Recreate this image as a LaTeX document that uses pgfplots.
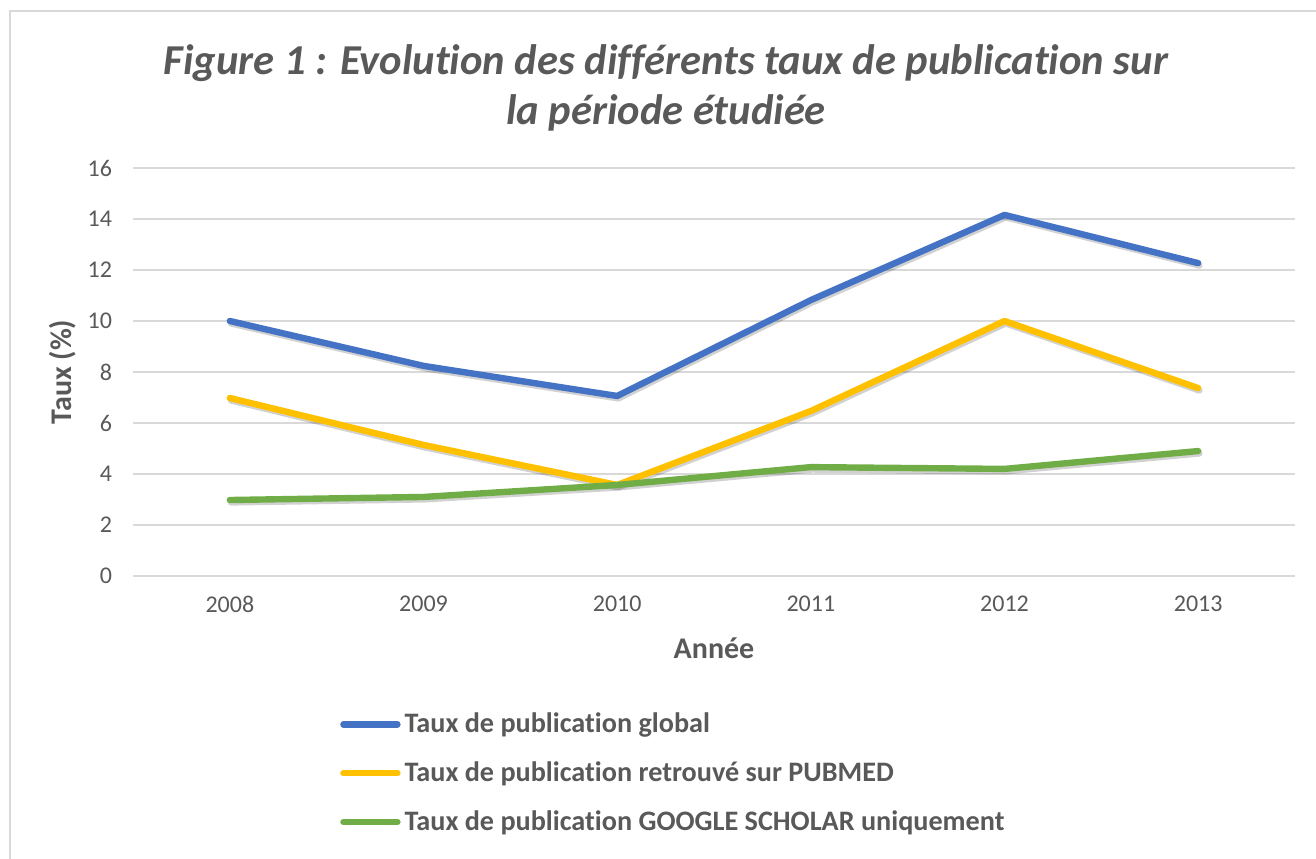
\documentclass[border=0pt]{standalone}
\usepackage{fontspec}
\setmainfont{Carlito}[Ligatures=NoCommon]
\usepackage{pgfplots}
\pgfplotsset{compat=1.18}
\definecolor{cblue}{HTML}{4472C4}
\definecolor{cyellow}{HTML}{FFC000}
\definecolor{cgreen}{HTML}{70AD47}
\definecolor{txt}{HTML}{595959}
\definecolor{cgrid}{HTML}{D9D9D9}
\begin{document}
\begin{tikzpicture}
\useasboundingbox (0pt,0pt) rectangle (658pt,429pt);
\draw[cgrid, line width=0.8pt] (5pt,-2pt) -- (5pt,423.5pt) -- (660pt,423.5pt);
\node[font=\fontsize{21.3}{25}\selectfont\bfseries\itshape, text=txt, align=center] at (333pt,385pt)
  {Figure 1 : Evolution des différents taux de publication sur\\la période étudiée};
\begin{axis}[
  at={(66.5pt,141pt)}, anchor=south west,
  scale only axis, width=581pt, height=204pt,
  xmin=-0.5, xmax=5.5, ymin=0, ymax=16,
  xtick={0,1,2,3,4,5},
  xticklabels={2008,2009,2010,2011,2012,2013},
  ytick={0,2,...,16},
  xmajorgrids=false, ymajorgrids=true,
  grid style={cgrid, line width=0.8pt},
  axis line style={draw=none},
  tick style={draw=none},
  /pgf/number format/assume math mode=true,
  tick label style={font=\fontsize{12}{14}\selectfont, text=txt},
  yticklabel style={xshift=-7pt},
  xticklabel style={yshift=-6.6pt},
  xlabel={Année}, ylabel={Taux (\%)},
  label style={font=\fontsize{15}{18}\selectfont\bfseries, text=txt},
  xlabel style={at={(rel axis cs:0.5,-0.1765)}, anchor=center},
  ylabel style={at={(rel axis cs:-0.0602,0.5)}, anchor=center},
  legend style={at={(rel axis cs:0.178,-0.325)}, anchor=north west, draw=none,
    font=\fontsize{14.1}{17}\selectfont\bfseries, text=txt,
    row sep=9pt, inner sep=0pt,
    /tikz/every even column/.append style={column sep=0pt}},
  legend cell align=left,
  legend image code/.code={\draw[#1, line cap=round] (0pt,0pt) -- (27pt,0pt);},
  every axis plot/.append style={line width=3.2pt, line join=round, line cap=round},
]
\addplot[black, opacity=0.18, forget plot, transform canvas={xshift=0.6pt,yshift=-1.2pt}] table {
x y
0 10.0
1 8.24
2 7.06
3 10.82
4 14.16
5 12.27
};
\addplot[black, opacity=0.18, forget plot, transform canvas={xshift=0.6pt,yshift=-1.2pt}] table {
x y
0 6.98
1 5.14
2 3.57
3 6.47
4 10.0
5 7.37
};
\addplot[black, opacity=0.18, forget plot, transform canvas={xshift=0.6pt,yshift=-1.2pt}] table {
x y
0 2.98
1 3.10
2 3.57
3 4.27
4 4.20
5 4.90
};
\addplot[cblue] table {
x y
0 10.0
1 8.24
2 7.06
3 10.82
4 14.16
5 12.27
};
\addplot[cyellow] table {
x y
0 6.98
1 5.14
2 3.57
3 6.47
4 10.0
5 7.37
};
\addplot[cgreen] table {
x y
0 2.98
1 3.10
2 3.57
3 4.27
4 4.20
5 4.90
};
\legend{Taux de publication global, Taux de publication retrouvé sur PUBMED, Taux de publication GOOGLE SCHOLAR uniquement}
\end{axis}
\end{tikzpicture}
\end{document}
